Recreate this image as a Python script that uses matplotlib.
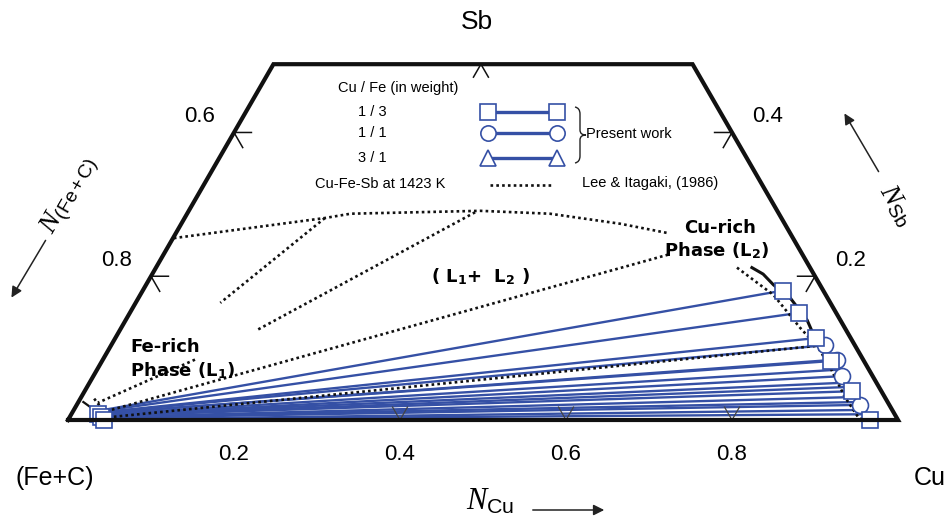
import numpy as np
import matplotlib
matplotlib.use("Agg")
import matplotlib.pyplot as plt
from matplotlib.path import Path
from matplotlib.patches import PathPatch

plt.rcParams['font.family'] = ['Liberation Sans', 'DejaVu Sans']
plt.rcParams['mathtext.fontset'] = 'custom'
plt.rcParams['mathtext.it'] = 'Liberation Serif:italic'
plt.rcParams['mathtext.rm'] = 'Liberation Sans'
plt.rcParams['mathtext.bf'] = 'DejaVu Sans:bold'

SQ3 = np.sqrt(3) / 2
SB_TOP = 0.495
BLUE = '#3550a5'

# present work tie lines, compositions (N_Cu, N_Sb)
cu_end_cu = [0.771, 0.806, 0.844, 0.860, 0.878, 0.884, 0.893, 0.902, 0.912,
             0.918, 0.924, 0.932, 0.939, 0.944, 0.951, 0.957, 0.966]
cu_end_sb = [0.180, 0.149, 0.114, 0.104, 0.082, 0.084, 0.070, 0.061, 0.052,
             0.046, 0.040, 0.032, 0.025, 0.021, 0.014, 0.008, 0.000]
cu_end_mark = ['s', 's', 's', 'o', 's', 'o', '', 'o', '',
               '', 's', '', '', 'o', '', '', 's']
fe_end_cu = [0.036, 0.037, 0.038, 0.038, 0.039, 0.039, 0.039, 0.041, 0.041,
             0.042, 0.042, 0.043, 0.043, 0.043, 0.045, 0.045, 0.046]
fe_end_sb = [0.014, 0.013, 0.011, 0.011, 0.010, 0.010, 0.008, 0.007, 0.007,
             0.006, 0.006, 0.004, 0.004, 0.003, 0.001, 0.001, 0.000]
fe_mark_cu = [0.032, 0.038, 0.043]
fe_mark_sb = [0.008, 0.004, 0.000]

# present work Cu-rich boundary (solid)
pw_cu = [0.718, 0.736, 0.756, 0.785, 0.821, 0.836]
pw_sb = [0.212, 0.203, 0.188, 0.170, 0.139, 0.122]
pw_fe_cu = [0.006, 0.023]
pw_fe_sb = [0.025, 0.015]

# Lee & Itagaki (1986), 1423 K
dome_cu = [0.001, 0.169, 0.197, 0.351, 0.437, 0.529, 0.593]
dome_sb = [0.253, 0.281, 0.287, 0.291, 0.287, 0.273, 0.260]
cu_branch_cu = [0.700, 0.763, 0.817, 0.852, 0.881, 0.920, 0.950, 0.959]
cu_branch_sb = [0.212, 0.174, 0.129, 0.102, 0.074, 0.032, 0.004, 0.000]
lee_ties = [
    ([0.169, 0.102], [0.281, 0.163]),
    ([0.346, 0.165], [0.289, 0.125]),
    ([0.111, 0.024], [0.084, 0.024]),
    ([0.608, 0.037], [0.230, 0.011]),
    ([0.849, 0.041], [0.103, 0.003]),
    ([0.959, 0.045], [0.000, 0.000]),
    ([0.035, 0.014], [0.014, 0.032]),
]

cu_ticks = [0.2, 0.4, 0.6, 0.8]
left_ticks = [0.4, 0.2]      # N_Sb on left edge
left_labels = ['0.6', '0.8']
right_ticks = [0.4, 0.2]
right_labels = ['0.4', '0.2']


def tc(cu, sb):
    cu = np.asarray(cu, dtype=float)
    sb = np.asarray(sb, dtype=float)
    return cu + sb / 2, sb * SQ3


def P(x, y):
    # pixel position -> data coords (layout only)
    return (x - 68) / 830, (420 - y) / 830


fig = plt.figure(figsize=(9.53, 5.25), dpi=100)
ax = fig.add_axes([0, 0, 1, 1])
ax.set_xlim(-68 / 830, (953 - 68) / 830)
ax.set_ylim((420 - 525) / 830, 420 / 830)
ax.set_aspect('equal')
ax.axis('off')

# frame
fx, fy = tc([0, 1, 1 - SB_TOP, 0, 0], [0, 0, SB_TOP, SB_TOP, 0])
ax.plot(fx, fy, color='#111111', lw=3, solid_joinstyle='miter', zorder=6)

# ticks
L = 0.018
for c in cu_ticks[1:]:
    x0, y0 = tc(c, 0)
    ax.plot([x0 - 0.5 * L, x0, x0 + 0.5 * L], [y0 + SQ3 * L, y0, y0 + SQ3 * L],
            color='#444444', lw=0.9, zorder=4)
x0, y0 = tc(0.25, SB_TOP)
ax.plot([x0 - 0.5 * L, x0, x0 + 0.5 * L], [y0 - SQ3 * L, y0, y0 - SQ3 * L],
        color='#111111', lw=1.1, zorder=4)
L2 = 0.021
for s in left_ticks:
    x0, y0 = tc(0, s)
    ax.plot([x0 + L2, x0, x0 + 0.5 * L2], [y0, y0, y0 - SQ3 * L2],
            color='#111111', lw=1.1, zorder=4)
for s in right_ticks:
    x0, y0 = tc(1 - s, s)
    ax.plot([x0 - L2, x0, x0 - 0.5 * L2], [y0, y0, y0 - SQ3 * L2],
            color='#111111', lw=1.1, zorder=4)

# tick labels
for c in cu_ticks:
    x0, _ = tc(c, 0)
    ax.text(x0, P(0, 455)[1], f'{c:.1f}', ha='center', va='center', fontsize=16)
for s, lab in zip(left_ticks, left_labels):
    x0, y0 = tc(0, s)
    ax.text(x0 - 0.041, y0 + 0.019, lab, ha='center', va='center', fontsize=16)
for s, lab in zip(right_ticks, right_labels):
    x0, y0 = tc(1 - s, s)
    ax.text(x0 + 0.043, y0 + 0.019, lab, ha='center', va='center', fontsize=16)

# Lee & Itagaki dotted lines
dot = dict(color='#111111', lw=1.9, ls=(0, (1, 1.2)), zorder=3)
ax.plot(*tc(dome_cu, dome_sb), **dot)
ax.plot(*tc(cu_branch_cu, cu_branch_sb), **dot)
for cc, ss in lee_ties:
    ax.plot(*tc(cc, ss), **dot)

# present work tie lines
for i in range(len(cu_end_cu)):
    ax.plot(*tc([fe_end_cu[i], cu_end_cu[i]], [fe_end_sb[i], cu_end_sb[i]]),
            color=BLUE, lw=1.7, zorder=2)

ax.plot(*tc(pw_cu, pw_sb), color='#111111', lw=2.2, zorder=4)
ax.plot(*tc(pw_fe_cu, pw_fe_sb), color='#111111', lw=1.6, zorder=4)

mk = dict(mfc='white', mec=BLUE, mew=1.2, ls='none', zorder=5)
for m in ['o', 's']:
    xs = [c for c, k in zip(cu_end_cu, cu_end_mark) if k == m]
    ys = [s for s, k in zip(cu_end_sb, cu_end_mark) if k == m]
    ax.plot(*tc(xs, ys), marker=m, ms=11 if m == 's' else 11.5, **mk)
ax.plot(*tc(fe_mark_cu, fe_mark_sb), marker='s', ms=11, **mk)

# corner labels
ax.text(*P(477, 22), 'Sb', ha='center', va='center', fontsize=19)
ax.text(*P(55, 478), '(Fe+C)', ha='center', va='center', fontsize=18)
ax.text(*P(930, 478), 'Cu', ha='center', va='center', fontsize=18)

# axis names with arrows
ax.text(*P(490, 502), r'$\mathit{N}_{\mathrm{Cu}}$', ha='center', va='center', fontsize=22)
ax.annotate('', xy=P(607, 510), xytext=P(530, 510),
            arrowprops=dict(arrowstyle='-|>', color='#222222', lw=1.1, mutation_scale=16))
ax.text(*P(70, 195), r'$\mathit{N}_{\mathrm{(Fe+C)}}$', ha='center', va='center',
        fontsize=20, rotation=60)
ax.annotate('', xy=P(10, 300), xytext=P(47, 238),
            arrowprops=dict(arrowstyle='-|>', color='#222222', lw=1.1, mutation_scale=16))
ax.text(*P(896, 205), r'$\mathit{N}_{\mathrm{Sb}}$', ha='center', va='center',
        fontsize=20, rotation=-60)
ax.annotate('', xy=P(843, 111), xytext=P(880, 174),
            arrowprops=dict(arrowstyle='-|>', color='#222222', lw=1.1, mutation_scale=16))

# phase labels
bold = dict(fontsize=13, fontweight='bold', family='DejaVu Sans', zorder=7)
ax.text(*P(130, 347), 'Fe-rich', ha='left', va='center', **bold)
ax.text(*P(130, 371), r'Phase (L$_\mathbf{1}$)', ha='left', va='center', **bold)
ax.text(*P(720, 228), 'Cu-rich', ha='center', va='center', **bold)
ax.text(*P(717, 251), r'Phase (L$_\mathbf{2}$)', ha='center', va='center', **bold)
ax.text(*P(480, 277), r'( L$_\mathbf{1}$+  L$_\mathbf{2}$ )', ha='center', va='center', **bold)

# legend
ax.text(*P(398, 88), 'Cu / Fe (in weight)', ha='center', va='center', fontsize=10.5)
legend_rows = [('1 / 3', 's', 112), ('1 / 1', 'o', 133), ('3 / 1', '^', 158)]
for lab, m, yy in legend_rows:
    ax.text(*P(372, yy), lab, ha='center', va='center', fontsize=10.5)
    xa, ya = P(488, yy)
    xb, yb = P(557, yy)
    ax.plot([xa, xb], [ya, yb], color=BLUE, lw=2.4, zorder=5)
    ax.plot([xa, xb], [ya, yb], marker=m, ms=12 if m == '^' else 11, mfc='white',
            mec=BLUE, mew=1.2, ls='none', zorder=6)
bx = [P(575, 107), P(580, 108), P(580, 114), P(580, 130), P(580, 135), P(586, 135),
      P(580, 135), P(580, 140), P(580, 156), P(580, 162), P(575, 163)]
codes = [Path.MOVETO, Path.CURVE3, Path.CURVE3, Path.LINETO, Path.CURVE3, Path.CURVE3,
         Path.CURVE3, Path.CURVE3, Path.LINETO, Path.CURVE3, Path.CURVE3]
ax.add_patch(PathPatch(Path(bx, codes), fill=False, lw=1.0, color='#222222'))
ax.text(*P(586, 134), 'Present work', ha='left', va='center', fontsize=10.5)
ax.text(*P(380, 184), 'Cu-Fe-Sb at 1423 K', ha='center', va='center', fontsize=10.5)
xa, ya = P(490, 185)
xb, yb = P(552, 185)
ax.plot([xa, xb], [ya, yb], **dot)
ax.text(*P(582, 183), 'Lee & Itagaki, (1986)', ha='left', va='center', fontsize=10.5)

fig.savefig('out.png', dpi=100)
